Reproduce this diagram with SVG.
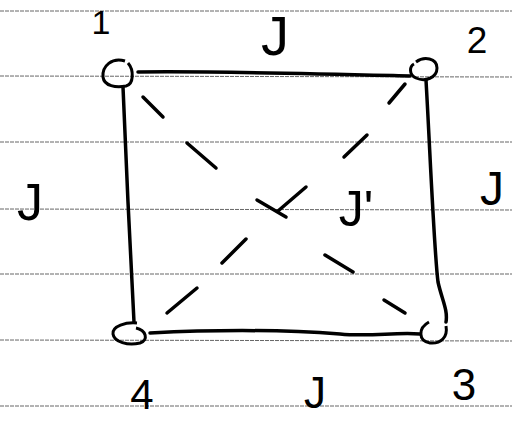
<svg xmlns="http://www.w3.org/2000/svg" width="512" height="421" viewBox="0 0 512 421">
<style>
.rule{stroke:#666;stroke-width:1;stroke-dasharray:4 1}
.edge{fill:none;stroke:#000;stroke-width:3.5;stroke-linecap:round}
.dash{fill:none;stroke:#000;stroke-width:3.5;stroke-linecap:round}
.node{fill:none;stroke:#000;stroke-width:3}
.lbl{font-family:"Liberation Sans",Arial,sans-serif;fill:#000;text-anchor:middle}
</style>
<rect width="512" height="421" fill="#fff"/>
<g id="ruled-lines">
<line class="rule" x1="0" y1="11" x2="512" y2="11"/>
<line class="rule" x1="0" y1="76" x2="512" y2="77"/>
<line class="rule" x1="0" y1="142" x2="512" y2="142"/>
<line class="rule" x1="0" y1="209" x2="512" y2="210"/>
<line class="rule" x1="0" y1="274" x2="512" y2="274"/>
<line class="rule" x1="0" y1="340" x2="512" y2="341"/>
<line class="rule" x1="0" y1="406" x2="512" y2="406"/>
</g>
<g id="connectors">
<path class="edge" d="M138,72 C220,71 330,74 410,76"/>
<path class="edge" d="M123,87 C126,160 130,250 134,322"/>
<path class="edge" d="M426,80 C430,150 434,250 438,282 C442,300 448,310 446,322"/>
<path class="edge" d="M150,333 C230,329 300,331 340,334 C370,337 395,332 420,334"/>
<g id="diag-1-3">
<path class="dash" d="M143,97 L163,117"/>
<path class="dash" d="M187,143 L216,168"/>
<path class="dash" d="M257,200 L286,217"/>
<path class="dash" d="M325,255 L353,272"/>
<path class="dash" d="M384,300 L405,313"/>
</g>
<g id="diag-2-4">
<path class="dash" d="M405,84 L389,103"/>
<path class="dash" d="M367,135 L344,157"/>
<path class="dash" d="M306,187 L278,211"/>
<path class="dash" d="M246,239 L222,263"/>
<path class="dash" d="M197,288 L167,313"/>
</g>
</g>
<g id="node-1">
<path class="node" d="M125,61 C112,57 102,66 103,77 C104,86 116,88 126,86 C134,84 134,70 128,63"/>
<text class="lbl" x="101" y="34" font-size="34">1</text>
</g>
<g id="node-2">
<path class="node" d="M416,62 C424,56 437,58 437,68 C437,78 425,82 416,78 C408,74 410,66 414,64"/>
<text class="lbl" x="477" y="53" font-size="37">2</text>
</g>
<g id="node-3">
<path class="node" d="M429,322 C418,328 418,341 430,343 C441,344 448,337 446,326"/>
<text class="lbl" x="464" y="400" font-size="44">3</text>
</g>
<g id="node-4">
<path class="node" d="M137,323 C126,322 112,326 113,334 C114,342 128,346 140,343 C149,340 146,330 136,328"/>
<text class="lbl" x="142" y="409" font-size="42">4</text>
</g>
<g id="labels">
<text class="lbl" x="275" y="55" font-size="56">J</text>
<text class="lbl" x="30" y="220" font-size="52">J</text>
<text class="lbl" x="356" y="226" font-size="50">J'</text>
<text class="lbl" x="492" y="205" font-size="48">J</text>
<text class="lbl" x="315" y="408" font-size="44">J</text>
</g>
</svg>
